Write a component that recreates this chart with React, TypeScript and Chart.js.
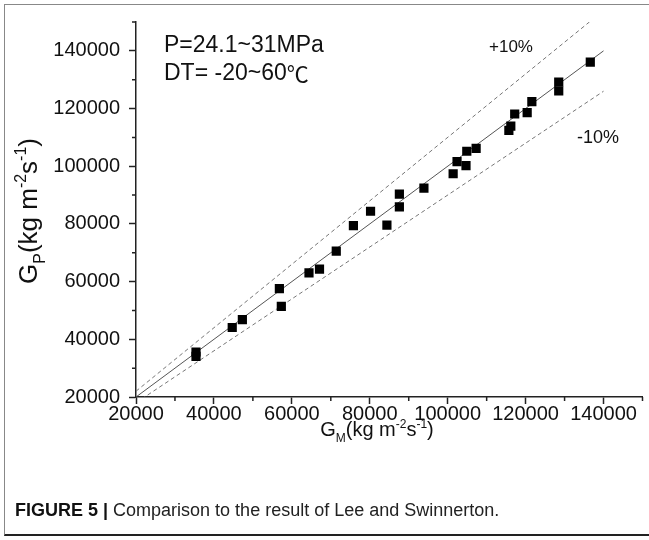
import React, { useEffect, useRef } from "react";
import { Chart, registerables } from "chart.js";

Chart.register(...registerables);

// ---- data ----
const measuredG = [35400, 35400, 44700, 47300, 56800, 57300, 64400, 67100, 71400, 75800, 80200, 84400, 87600, 87600, 93900, 101400, 102400, 104700, 104900, 107300, 115700, 116200, 117200, 120400, 121600, 128500, 128500, 136600];
const predictedG = [35600, 34100, 44100, 46800, 57600, 51400, 63000, 64300, 70600, 79400, 84400, 79600, 90300, 85900, 92400, 97400, 101600, 100200, 105200, 106200, 112400, 113900, 118100, 118600, 122400, 129200, 126100, 136100];

const refLineX = [20000, 140000];
const refLineY = [20000, 140000];
const plusTenY = [22000, 154000];
const minusTenY = [18000, 126000];

const tickValues = [20000, 40000, 60000, 80000, 100000, 120000, 140000];
const minorTickValues = [30000, 50000, 70000, 90000, 110000, 130000, 150000];

const FONT = "'Liberation Sans', Arial, Helvetica, sans-serif";

type Seg = { t: string; k: "n" | "sub" | "sup" };
const yTitle: Seg[] = [
  { t: "G", k: "n" }, { t: "P", k: "sub" }, { t: "(kg m", k: "n" }, { t: "-2", k: "sup" },
  { t: "s", k: "n" }, { t: "-1", k: "sup" }, { t: ")", k: "n" },
];
const xTitle: Seg[] = [
  { t: "G", k: "n" }, { t: "M", k: "sub" }, { t: "(kg m", k: "n" }, { t: "-2", k: "sup" },
  { t: "s", k: "n" }, { t: "-1", k: "sup" }, { t: ")", k: "n" },
];

function drawRich(ctx: CanvasRenderingContext2D, segs: Seg[], cx: number, cy: number, size: number) {
  const small = Math.round(size * 0.6);
  const fontFor = (k: string) => `${k === "n" ? size : small}px ${FONT}`;
  let total = 0;
  for (const s of segs) {
    ctx.font = fontFor(s.k);
    total += ctx.measureText(s.t).width;
  }
  let x = cx - total / 2;
  ctx.textBaseline = "alphabetic";
  ctx.textAlign = "left";
  const base = cy + size * 0.36;
  for (const s of segs) {
    ctx.font = fontFor(s.k);
    const dy = s.k === "sub" ? size * 0.28 : s.k === "sup" ? -size * 0.42 : 0;
    ctx.fillText(s.t, x, base + dy);
    x += ctx.measureText(s.t).width;
  }
}

const decorPlugin = {
  id: "decor",
  afterDraw(chart: any) {
    const ctx: CanvasRenderingContext2D = chart.ctx;
    const xs = chart.scales.x;
    const ys = chart.scales.y;
    const area = chart.chartArea;
    ctx.save();
    // minor ticks
    ctx.strokeStyle = "#222";
    ctx.lineWidth = 1.5;
    ctx.beginPath();
    for (const v of minorTickValues) {
      const px = xs.getPixelForValue(v);
      ctx.moveTo(px, area.bottom);
      ctx.lineTo(px, area.bottom + 4);
      const py = ys.getPixelForValue(v);
      ctx.moveTo(area.left, py);
      ctx.lineTo(area.left - 4, py);
    }
    ctx.stroke();

    ctx.fillStyle = "#111";
    // axis titles
    drawRich(ctx, xTitle, 377, 429, 20);
    ctx.save();
    ctx.translate(28, 211);
    ctx.rotate(-Math.PI / 2);
    drawRich(ctx, yTitle, 0, 0, 26);
    ctx.restore();

    // annotations
    ctx.textAlign = "left";
    ctx.textBaseline = "middle";
    ctx.font = `23px ${FONT}`;
    ctx.fillText("P=24.1~31MPa", 164, 46);
    const dt = "DT= -20~60";
    ctx.fillText(dt, 164, 74);
    const w = ctx.measureText(dt).width;
    ctx.font = `22px 'Noto Sans CJK SC', ${FONT}`;
    ctx.fillText("\u2103", 164 + w, 74);
    ctx.font = `17px ${FONT}`;
    ctx.fillText("+10%", 489, 47);
    ctx.font = `18px ${FONT}`;
    ctx.fillText("-10%", 577, 138);
    ctx.restore();
  },
};

export default function App() {
  const ref = useRef<HTMLCanvasElement>(null);

  useEffect(() => {
    document.body.style.margin = "0";
    const points = measuredG.map((x, i) => ({ x, y: predictedG[i] }));
    const mk = (ys: number[]) => refLineX.map((x, i) => ({ x, y: ys[i] }));
    const chart = new Chart(ref.current!, {
      type: "scatter",
      data: {
        datasets: [
          {
            type: "line" as any,
            data: mk(refLineY),
            borderColor: "#555",
            borderWidth: 1,
            pointRadius: 0,
            order: 3,
          },
          {
            type: "line" as any,
            data: mk(plusTenY),
            borderColor: "#777",
            borderWidth: 1,
            borderDash: [4, 3],
            pointRadius: 0,
            order: 3,
          },
          {
            type: "line" as any,
            data: mk(minusTenY),
            borderColor: "#777",
            borderWidth: 1,
            borderDash: [4, 3],
            pointRadius: 0,
            order: 3,
          },
          {
            data: points,
            pointStyle: "rect",
            pointRadius: 6.5,
            backgroundColor: "#000",
            borderColor: "#000",
            borderWidth: 0,
            order: 1,
          },
        ],
      },
      options: {
        responsive: false,
        animation: false,
        events: [],
        layout: { padding: { top: 22, right: 4, left: 0, bottom: 103 } },
        plugins: { legend: { display: false }, tooltip: { enabled: false } },
        scales: {
          x: {
            type: "linear",
            min: 20000,
            max: 150000,
            afterFit: (s: any) => { s.height = 40; },
            afterBuildTicks: (s: any) => { s.ticks = tickValues.map((v) => ({ value: v })); },
            grid: { drawOnChartArea: false, drawTicks: true, tickLength: 7, tickColor: "#222", tickWidth: 1.5 },
            border: { display: true, color: "#222", width: 1.5 },
            ticks: { color: "#111", font: { family: FONT, size: 20 }, padding: -2, maxRotation: 0, autoSkip: false, callback: (v: any) => String(v) },
          },
          y: {
            type: "linear",
            min: 20000,
            max: 150000,
            afterFit: (s: any) => { s.width = 136; },
            afterBuildTicks: (s: any) => { s.ticks = tickValues.map((v) => ({ value: v })); },
            grid: { drawOnChartArea: false, drawTicks: true, tickLength: 7, tickColor: "#222", tickWidth: 1.5 },
            border: { display: true, color: "#222", width: 1.5 },
            ticks: { color: "#111", font: { family: FONT, size: 20 }, padding: 9, autoSkip: false, callback: (v: any) => String(v) },
          },
        },
      },
      plugins: [decorPlugin],
    });
    return () => chart.destroy();
  }, []);

  return (
    <div style={{ position: "absolute", left: 0, top: 0, width: 649, height: 540, background: "#fff", overflow: "hidden" }}>
      <canvas ref={ref} width={649} height={540} style={{ position: "absolute", left: 0, top: 0 }} />
      <div style={{ position: "absolute", left: 4, top: 4, width: 660, height: 532, borderTop: "1.5px solid #888", borderLeft: "1.5px solid #888", borderBottom: "2px solid #222", boxSizing: "border-box", pointerEvents: "none" }} />
      <div style={{ position: "absolute", left: 15, top: 500, fontFamily: FONT, fontSize: 18, color: "#222", whiteSpace: "nowrap", lineHeight: "20px" }}>
        <b style={{ color: "#111" }}>FIGURE 5 |</b> Comparison to the result of Lee and Swinnerton.
      </div>
    </div>
  );
}
